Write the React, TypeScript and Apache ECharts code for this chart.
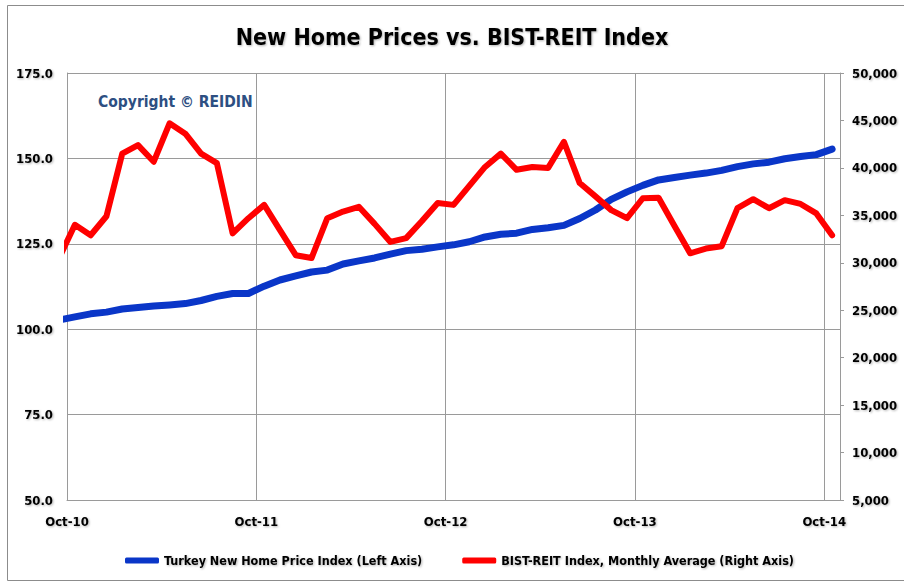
import React, { useEffect, useRef } from "react";
import * as echarts from "echarts";

// Months Sep-10 .. Oct-14 (Sep-10 lies just left of the axis start and is clipped)
const monthLabels = [
  "Sep-10", "Oct-10", "Nov-10", "Dec-10", "Jan-11", "Feb-11", "Mar-11", "Apr-11", "May-11", "Jun-11",
  "Jul-11", "Aug-11", "Sep-11", "Oct-11", "Nov-11", "Dec-11", "Jan-12", "Feb-12", "Mar-12", "Apr-12",
  "May-12", "Jun-12", "Jul-12", "Aug-12", "Sep-12", "Oct-12", "Nov-12", "Dec-12", "Jan-13", "Feb-13",
  "Mar-13", "Apr-13", "May-13", "Jun-13", "Jul-13", "Aug-13", "Sep-13", "Oct-13", "Nov-13", "Dec-13",
  "Jan-14", "Feb-14", "Mar-14", "Apr-14", "May-14", "Jun-14", "Jul-14", "Aug-14", "Sep-14", "Oct-14",
];

const homePriceIndex = [
  102.7, 103.6, 104.5, 105.0, 105.9, 106.35, 106.8, 107.1, 107.5, 108.4,
  109.6, 110.45, 110.45, 112.6, 114.4, 115.6, 116.75, 117.3, 119.1, 120.0,
  120.85, 122.0, 123.0, 123.4, 124.1, 124.7, 125.6, 127.0, 127.8, 128.1,
  129.2, 129.7, 130.4, 132.4, 134.9, 138.0, 140.2, 142.1, 143.7, 144.4,
  145.1, 145.7, 146.5, 147.6, 148.4, 148.9, 149.9, 150.55, 151.1, 152.7,
];

const bistReit = [
  30500, 34000, 32900, 34900, 41500, 42400, 40650, 44700, 43600, 41500,
  40500, 33100, 34700, 36100, 33450, 30800, 30500, 34700, 35400, 35900,
  34100, 32200, 32600, 34400, 36300, 36100, 38100, 40100, 41500, 39800,
  40100, 40000, 42750, 38400, 37000, 35550, 34700, 36800, 36850, 33900,
  31000, 31500, 31750, 35750, 36700, 35750, 36600, 36200, 35200, 32900,
];

const xTickLabels = ["Oct-10", "Oct-11", "Oct-12", "Oct-13", "Oct-14"];
const leftTicks = [50, 75, 100, 125, 150, 175];
const rightTicks = [5000, 10000, 15000, 20000, 25000, 30000, 35000, 40000, 45000, 50000];

const seriesNames = [
  "Turkey New Home Price Index (Left Axis)",
  "BIST-REIT Index, Monthly Average (Right Axis)",
];

const FONT = "'DejaVu Sans Condensed', 'Liberation Sans', sans-serif";
const shadow = {
  textShadowColor: "rgba(0,0,0,0.3)",
  textShadowBlur: 2,
  textShadowOffsetX: 1,
  textShadowOffsetY: 1,
};

export default function App() {
  const ref = useRef<HTMLDivElement>(null);

  useEffect(() => {
    if (!ref.current) return;
    const chart = echarts.init(ref.current, undefined, { renderer: "svg" });
    // month position: Oct-10 start = 0, points sit mid-month
    const pos = (i: number) => i - 1 + 0.5;
    const blueData = homePriceIndex.map((v, i) => [pos(i), v]);
    const redData = bistReit.map((v, i) => [pos(i), v]);

    chart.setOption({
      animation: false,
      backgroundColor: "#ffffff",
      title: {
        text: "New Home Prices vs. BIST-REIT Index",
        left: "center",
        top: 20,
        textStyle: {
          fontFamily: FONT,
          fontSize: 23,
          fontWeight: "bold",
          color: "#000",
          ...shadow,
        },
      },
      legend: {
        left: 120,
        top: 549,
        itemWidth: 34,
        itemHeight: 6,
        itemGap: 40,
        icon: "roundRect",
        data: seriesNames,
        textStyle: {
          fontFamily: FONT,
          fontSize: 12.5,
          fontWeight: "bold",
          color: "#000",
          ...shadow,
        },
      },
      grid: { left: 67, right: 64, top: 73, bottom: 84, containLabel: false },
      xAxis: {
        type: "value",
        min: 0,
        max: 49,
        interval: 12,
        axisLine: { show: true, lineStyle: { color: "#9a9a9a", width: 1 } },
        axisTick: { show: false },
        splitLine: { show: true, lineStyle: { color: "#9a9a9a", width: 1 } },
        axisLabel: {
          margin: 15,
          fontFamily: FONT,
          fontSize: 13,
          fontWeight: "bold",
          color: "#000",
          ...shadow,
          formatter: (v: number) => (v % 12 === 0 ? xTickLabels[v / 12] ?? "" : ""),
        },
      },
      yAxis: [
        {
          type: "value",
          position: "left",
          min: leftTicks[0],
          max: leftTicks[leftTicks.length - 1],
          interval: 25,
          axisLine: { show: true, lineStyle: { color: "#9a9a9a" } },
          axisTick: { show: false },
          splitLine: { show: true, lineStyle: { color: "#9a9a9a", width: 1 } },
          axisLabel: {
            margin: 14,
            fontFamily: FONT,
            fontSize: 13,
            fontWeight: "bold",
            color: "#000",
            ...shadow,
            formatter: (v: number) => v.toFixed(1),
          },
        },
        {
          type: "value",
          position: "right",
          min: rightTicks[0],
          max: rightTicks[rightTicks.length - 1],
          interval: 5000,
          axisLine: { show: true, lineStyle: { color: "#9a9a9a" } },
          axisTick: { show: true, length: 4, lineStyle: { color: "#9a9a9a" } },
          splitLine: { show: false },
          axisLabel: {
            margin: 12,
            fontFamily: FONT,
            fontSize: 13,
            fontWeight: "bold",
            color: "#000",
            ...shadow,
            formatter: (v: number) => v.toLocaleString("en-US"),
          },
        },
      ],
      graphic: [
        {
          type: "rect",
          left: 5,
          top: 3,
          shape: { width: 910, height: 575 },
          style: { fill: "none", stroke: "#8c8c8c", lineWidth: 1 },
          silent: true,
          z: -1,
        },
        {
          type: "text",
          left: 98,
          top: 94,
          style: {
            text: "Copyright © REIDIN",
            fill: "#2D4F82",
            font: `bold 15.5px ${FONT}`,
          },
          z: 10,
        },
      ],
      series: [
        {
          name: seriesNames[0],
          type: "line",
          yAxisIndex: 0,
          data: blueData,
          showSymbol: false,
          symbol: "none",
          clip: true,
          color: "#0A36C8",
          lineStyle: { width: 7, color: "#0A36C8", cap: "round", join: "round" },
          z: 3,
        },
        {
          name: seriesNames[1],
          type: "line",
          yAxisIndex: 1,
          data: redData,
          showSymbol: false,
          symbol: "none",
          clip: true,
          color: "#FF0000",
          lineStyle: { width: 6, color: "#FF0000", cap: "round", join: "round" },
          z: 4,
        },
      ],
    });
    return () => chart.dispose();
  }, []);

  return (
    <div
      ref={ref}
      style={{ position: "fixed", left: 0, top: 0, width: 904, height: 584 }}
      data-months={monthLabels.length}
    />
  );
}
